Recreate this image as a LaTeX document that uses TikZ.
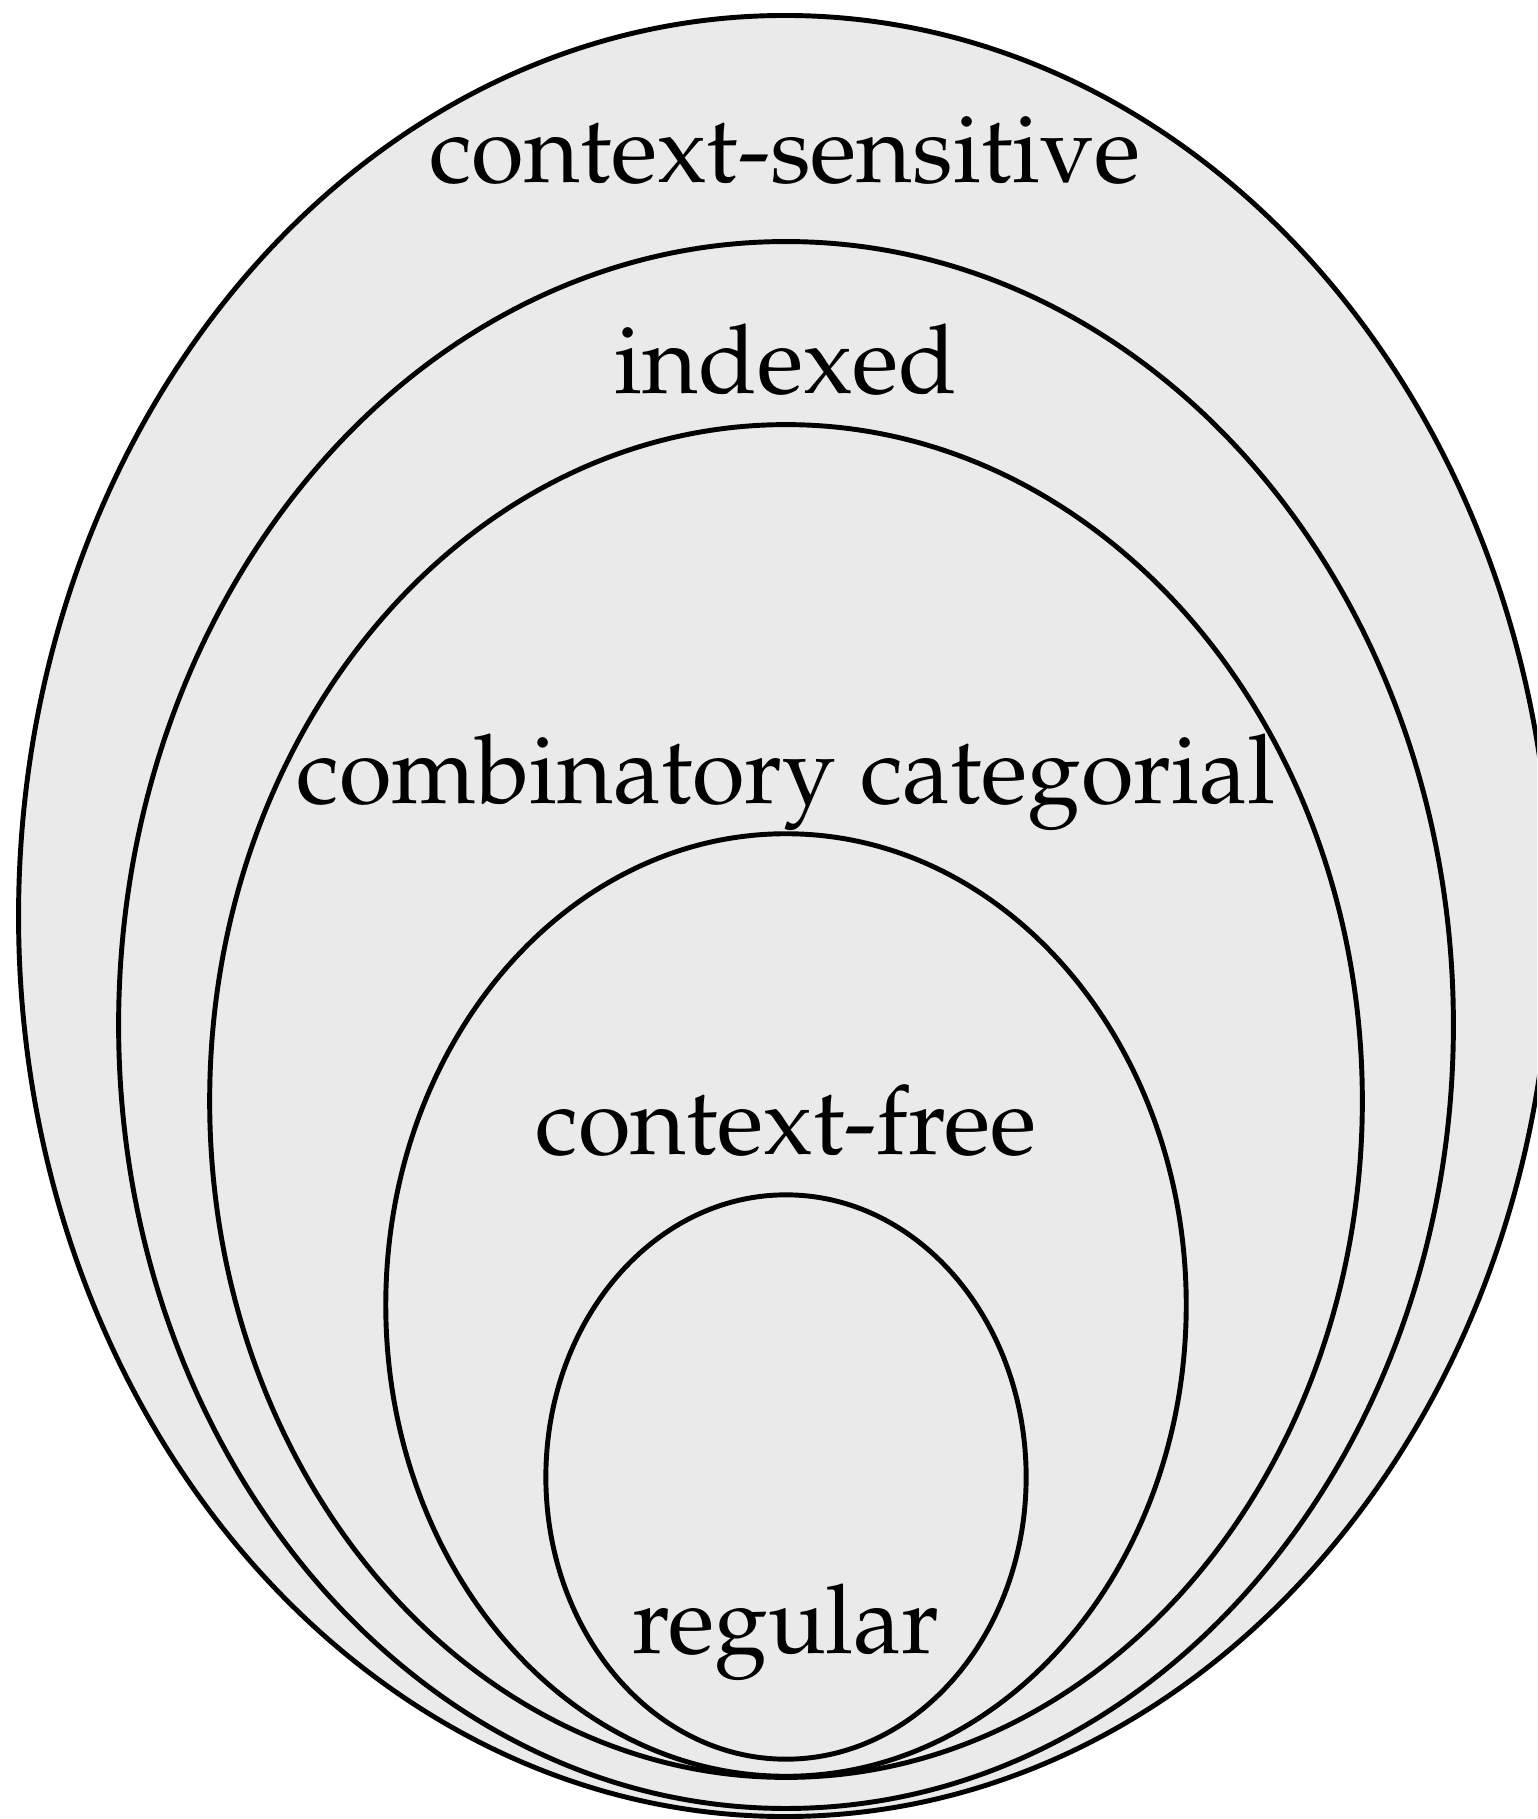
\documentclass[tikz,border=0pt]{standalone}
\usepackage[T1]{fontenc}
\usepackage{mathpazo}
\usetikzlibrary{shapes.geometric, positioning}

\definecolor{setgray}{HTML}{EAEAEA}
\tikzset{
  langclass/.style={ellipse, draw, line width=1.4pt, fill=setgray, inner sep=0pt},
  classname/.style={anchor=base, inner sep=0pt, font=\fontsize{27.3}{32}\selectfont},
}

\begin{document}
\begin{tikzpicture}[x=0.01cm, y=-0.01cm]
  \useasboundingbox (0,0) rectangle (1537,1819);
  \clip (0,0) rectangle (1537,1819);

  % nested language classes, largest first
  \node[langclass, minimum width=15.32cm, minimum height=18.00cm] (cs)  at (785,916)  {};
  \node[langclass, minimum width=13.34cm, minimum height=15.66cm] (idx) at (786,1025) {};
  \node[langclass, minimum width=11.52cm, minimum height=13.52cm] (ccg) at (786,1101) {};
  \node[langclass, minimum width=8.00cm,  minimum height=9.42cm]  (cf)  at (786,1305) {};
  \node[langclass, minimum width=4.80cm,  minimum height=5.64cm]  (reg) at (786,1477) {};

  \node[classname] (cslabel)  at (785,183)  {context-sensitive};
  \node[classname] (idxlabel) at (786,394)  {indexed};
  \node[classname] (ccglabel) at (786,803)  {combinatory categorial};
  \node[classname] (cflabel)  at (786,1154) {context-free};
  \node[classname] (reglabel) at (786,1653) {regular};
\end{tikzpicture}
\end{document}
